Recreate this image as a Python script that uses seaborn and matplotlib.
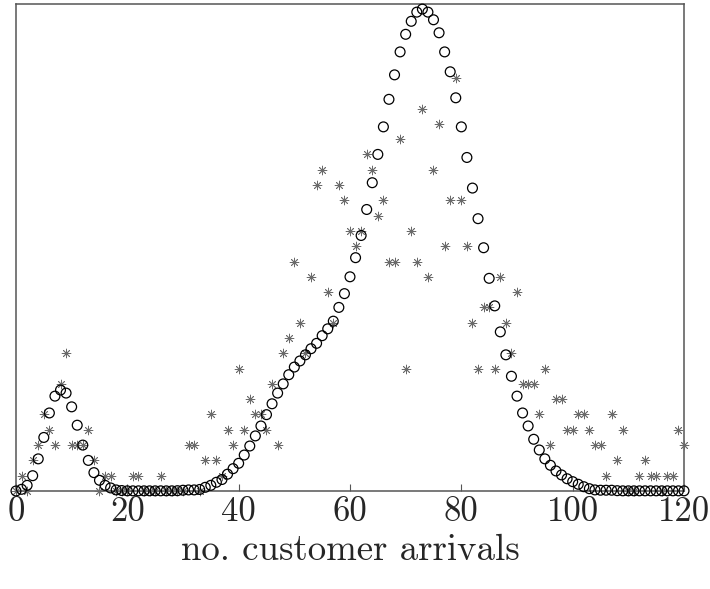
import numpy as np
import pandas as pd
import matplotlib
matplotlib.use("Agg")
import matplotlib.pyplot as plt
import seaborn as sns

# number of customer arrivals per interval
arrivals = list(range(0, 121))

# observed frequency of each arrival count
observed = [
    0, 1, 0, 2, 3, 5, 4, 3, 7, 9,
    3, 3, 3, 4, 2, 0, 1, 1, 0, 0,
    0, 1, 1, 0, 0, 0, 1, 0, 0, 0,
    0, 3, 3, 0, 2, 5, 2, 1, 4, 3,
    8, 4, 6, 5, 5, 4, 7, 3, 9, 10,
    15, 11, 9, 14, 20, 21, 13, 11, 20, 19,
    17, 16, 17, 22, 21, 18, 19, 15, 15, 23,
    8, 17, 15, 25, 14, 21, 24, 16, 19, 27,
    19, 16, 11, 8, 12, 12, 8, 14, 11, 9,
    13, 7, 7, 7, 5, 8, 3, 6, 6, 4,
    4, 5, 5, 4, 3, 3, 1, 5, 2, 4,
    0, 0, 1, 2, 1, 1, 0, 1, 1, 4,
    3,
]

# fitted (expected) frequency of each arrival count
expected = [
    0.0, 0.11, 0.37, 1.0, 2.1, 3.5, 5.1, 6.2, 6.6, 6.4,
    5.5, 4.3, 3.0, 2.0, 1.2, 0.7, 0.37, 0.2, 0.07, 0.03,
    0.01, 0.01, 0.01, 0.01, 0.01, 0.01, 0.01, 0.01, 0.01, 0.02,
    0.05, 0.07, 0.07, 0.1, 0.24, 0.37, 0.57, 0.75, 1.1, 1.46,
    1.81, 2.35, 2.94, 3.6, 4.25, 4.99, 5.7, 6.4, 7.0, 7.6,
    8.1, 8.5, 8.9, 9.3, 9.65, 10.15, 10.6, 11.1, 12.0, 12.9,
    14.0, 15.25, 16.7, 18.4, 20.15, 22.0, 23.8, 25.6, 27.2, 28.7,
    29.85, 30.7, 31.3, 31.5, 31.3, 30.8, 29.95, 28.7, 27.4, 25.7,
    23.8, 21.8, 19.8, 17.8, 15.9, 13.9, 12.1, 10.4, 8.9, 7.5,
    6.2, 5.1, 4.25, 3.38, 2.68, 2.1, 1.68, 1.31, 1.05, 0.8,
    0.61, 0.44, 0.28, 0.15, 0.07, 0.05, 0.05, 0.05, 0.02, 0.01,
    0.01, 0.01, 0.01, 0.01, 0.01, 0.01, 0.01, 0.01, 0.01, 0.01,
    0.01,
]

x_ticks = [0, 20, 40, 60, 80, 100, 120]

df = pd.DataFrame({"arrivals": arrivals, "observed": observed, "expected": expected})

sns.set_theme(style="white")
plt.rcParams["font.family"] = ["cmr10", "DejaVu Serif"]
plt.rcParams["axes.formatter.use_mathtext"] = True

fig = plt.figure(figsize=(7.10, 5.89), dpi=100)
ax = fig.add_axes([0.0225, 0.1664, 0.9409, 0.826])

sns.scatterplot(data=df, x="arrivals", y="observed", ax=ax,
                marker=(8, 2, 0), s=40, color="#6a6a6a", linewidth=0.6,
                clip_on=False, zorder=3)
sns.scatterplot(data=df, x="arrivals", y="expected", ax=ax,
                marker="o", s=50, color="black", facecolor="none",
                edgecolor="black", linewidth=0.9, clip_on=False, zorder=4)

ax.set_xlim(0, 120)
ax.set_ylim(0, 31.8)
ax.set_xticks(x_ticks)
ax.set_xticklabels([str(t) for t in x_ticks])
ax.set_yticks([])
ax.set_ylabel("")
ax.set_xlabel("no. customer arrivals", fontsize=26.5, labelpad=4)

ax.tick_params(axis="x", direction="in", length=5, width=0.8, color="#555555",
               labelsize=25, pad=4, bottom=True, top=False)
for sp in ax.spines.values():
    sp.set_visible(True)
    sp.set_color("#555555")
    sp.set_linewidth(1.1)

fig.savefig("out.png", dpi=100)
